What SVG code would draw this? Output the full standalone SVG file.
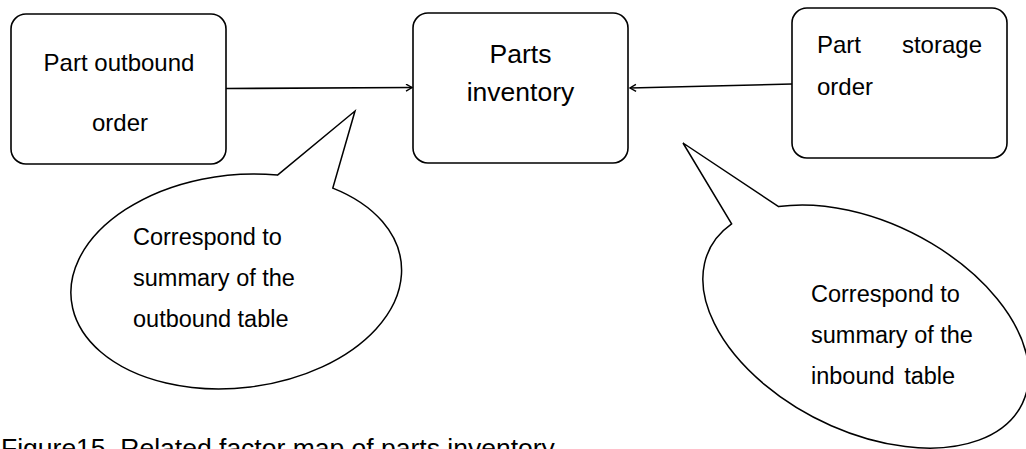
<svg xmlns="http://www.w3.org/2000/svg" width="1026" height="449" viewBox="0 0 1026 449">
  <style>
    .box { fill: #fff; stroke: #000; stroke-width: 1.6; }
    .bubble { fill: #fff; stroke: #000; stroke-width: 1.5; stroke-linejoin: miter; }
    .link { fill: none; stroke: #000; stroke-width: 1.6; }
    .t { font-family: "Liberation Sans", Arial, sans-serif; fill: #000; }
  </style>
  <defs>
    <marker id="arrow" markerUnits="userSpaceOnUse" markerWidth="10" markerHeight="10" refX="7" refY="4" orient="auto">
      <path d="M1,0.5 L7,4 L1,7.5" fill="none" stroke="#000" stroke-width="1.4"/>
    </marker>
  </defs>
  <rect width="1026" height="449" fill="#fff"/>

  <!-- connectors -->
  <g id="connectors">
    <line class="link" x1="226" y1="88.5" x2="412" y2="87.5" marker-end="url(#arrow)"/>
    <line class="link" x1="792" y1="84" x2="630" y2="88" marker-end="url(#arrow)"/>
  </g>

  <g id="node-outbound">
    <rect class="box" x="11" y="14" width="215" height="150" rx="15" ry="15"/>
    <text class="t" x="119" y="70.5" font-size="24" text-anchor="middle">Part outbound</text>
    <text class="t" x="120" y="130.5" font-size="24" text-anchor="middle">order</text>
  </g>

  <g id="node-inventory">
    <rect class="box" x="413" y="13" width="215" height="150" rx="15" ry="15"/>
    <text class="t" x="520.5" y="62.5" font-size="26.5" text-anchor="middle">Parts</text>
    <text class="t" x="520.5" y="100.5" font-size="26.5" text-anchor="middle">inventory</text>
  </g>

  <g id="node-storage">
    <rect class="box" x="792" y="8" width="215" height="150" rx="15" ry="15"/>
    <text class="t" x="817" y="53" font-size="24">Part</text>
    <text class="t" x="982" y="53" font-size="24" text-anchor="end">storage</text>
    <text class="t" x="817" y="95" font-size="24">order</text>
  </g>

  <g id="callout-outbound">
    <path class="bubble" d="M277.5,175.1 L355,111 L332.8,188.1 A166 106.5 -6.6 1 1 277.5,175.1 Z"/>
    <text class="t" x="133" y="245" font-size="23.5">Correspond to</text>
    <text class="t" x="133" y="286" font-size="23.5">summary of the</text>
    <text class="t" x="133" y="327" font-size="23.5">outbound table</text>
  </g>

  <g id="callout-inbound">
    <path class="bubble" d="M778.6,206.6 L683,143 L731.6,223.9 A174.4 104.5 26.4 1 0 778.6,206.6 Z"/>
    <text class="t" x="811" y="302" font-size="23.5">Correspond to</text>
    <text class="t" x="811" y="343" font-size="23.5">summary of the</text>
    <text class="t" x="811" y="384" font-size="23.5" word-spacing="3">inbound table</text>
  </g>

  <g id="caption">
    <text class="t" x="1" y="457" font-size="26.5">Figure15.  Related factor map of parts inventory</text>
  </g>
</svg>
